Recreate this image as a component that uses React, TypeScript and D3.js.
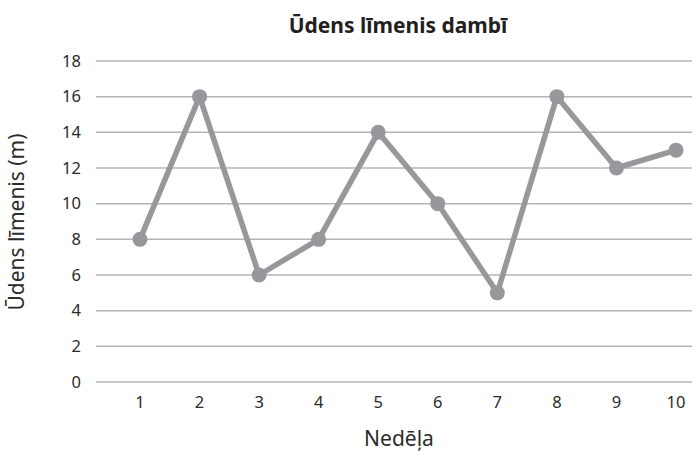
import React from "react";
import * as d3 from "d3";

const weeks = ["1", "2", "3", "4", "5", "6", "7", "8", "9", "10"];
const levels = [8, 16, 6, 8, 14, 10, 5, 16, 12, 13];
const yTicks = [0, 2, 4, 6, 8, 10, 12, 14, 16, 18];
const title = "Ūdens līmenis dambī";
const xTitle = "Nedēļa";
const yTitle = "Ūdens līmenis (m)";

export default function App() {
  const W = 692, H = 451;
  const gridLeft = 96, gridRight = 692;
  const x = d3.scalePoint<string>().domain(weeks).range([140, 676]);
  const y = d3.scaleLinear().domain([0, 18]).range([382, 61]);
  const line = d3.line<number>().x((_, i) => x(weeks[i])!).y((d) => y(d));
  const font = "'Noto Sans', 'Open Sans', sans-serif";
  const color = "#98989c";
  return (
    <svg width={W} height={H} style={{ position: "absolute", left: 0, top: 0 }} fontFamily={font}>
      <rect width={W} height={H} fill="#fff" />
      <text x={398} y={33} textAnchor="middle" fontSize={21} fontWeight="bold" fill="#231f20">{title}</text>
      {yTicks.map((t) => (
        <g key={t}>
          <line x1={gridLeft} x2={gridRight} y1={y(t)} y2={y(t)} stroke="#b5b5b5" strokeWidth={1.5} />
          <text x={81} y={y(t)} dy="0.35em" textAnchor="end" fontSize={16.5} fill="#2b2b2b">{t}</text>
        </g>
      ))}
      {weeks.map((w) => (
        <text key={w} x={x(w)} y={402} dy="0.35em" textAnchor="middle" fontSize={16.5} fill="#2b2b2b">{w}</text>
      ))}
      <text x={399} y={446} textAnchor="middle" fontSize={21} fill="#2b2b2b">{xTitle}</text>
      <text transform={`translate(24,222) rotate(-90)`} textAnchor="middle" fontSize={21} fill="#2b2b2b">{yTitle}</text>
      <path d={line(levels)!} fill="none" stroke={color} strokeWidth={5.5} strokeLinejoin="round" />
      {levels.map((v, i) => (
        <circle key={i} cx={x(weeks[i])} cy={y(v)} r={7.5} fill={color} />
      ))}
    </svg>
  );
}
